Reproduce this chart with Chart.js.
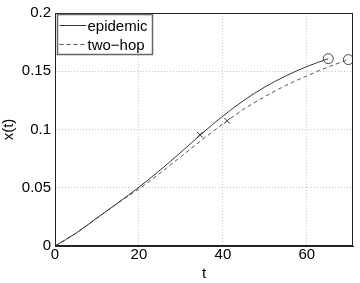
<!DOCTYPE html>
<html>
<head>
<meta charset="utf-8">
<script src="https://cdn.jsdelivr.net/npm/chart.js@4.4.0/dist/chart.umd.min.js"></script>
<style>
  html, body { margin: 0; padding: 0; background: #fff; }
  #wrap { width: 360px; height: 283px; position: relative; }
</style>
</head>
<body>
<div id="wrap"><canvas id="chart"></canvas></div>
<script>
// curve samples
const tEpidemic = [0, 5, 10, 15, 20, 25, 30, 35, 40, 45, 50, 55, 60, 65.1];
const xEpidemic = [0, 0.011, 0.024, 0.037, 0.0505, 0.065, 0.0805, 0.0965, 0.1115, 0.125, 0.1365, 0.146, 0.154, 0.1608];
const tTwoHop   = [0, 5, 10, 15, 20, 25, 30, 35, 40, 45, 50, 55, 60, 65, 69.9];
const xTwoHop   = [0, 0.011, 0.024, 0.037, 0.049, 0.0625, 0.0767, 0.091, 0.1048, 0.1175, 0.1283, 0.1378, 0.146, 0.1535, 0.1600];

// markers
const crossT = [34.5, 41.0];
const crossX = [0.0955, 0.1075];
const circleT = [65.1, 69.9];
const circleX = [0.1608, 0.1600];

const seriesNames = ["epidemic", "two\u2212hop"];
const xTicks = [0, 20, 40, 60];
const yTicks = [0, 0.05, 0.1, 0.15, 0.2];

const FONT = "'Liberation Sans', Arial, sans-serif";

function pts(ts, xs) {
    return ts.map((t, i) => ({ x: t, y: xs[i] }));
}

// MATLAB-style legend box inside the axes, plus the top/right frame
const boxLegend = {
    id: "boxLegend",
    afterDraw(chart) {
        const { ctx, chartArea: a } = chart;
        ctx.save();
        ctx.strokeStyle = "#222";
        ctx.lineWidth = 1;
        ctx.strokeRect(a.left + 0.5, a.top + 0.5, a.right - a.left - 1, a.bottom - a.top - 1);

        const x0 = a.left + 2.5, y0 = a.top + 1.5, w = 95, h = 40;
        ctx.fillStyle = "#fff";
        ctx.fillRect(x0, y0, w, h);
        ctx.strokeStyle = "#666";
        ctx.lineWidth = 1.5;
        ctx.strokeRect(x0, y0, w, h);

        ctx.font = "15px " + FONT;
        ctx.textBaseline = "middle";
        [0, 1].forEach(i => {
            const ds = chart.data.datasets[i];
            const yy = y0 + 11 + i * 19;
            ctx.strokeStyle = ds.borderColor;
            ctx.lineWidth = 1;
            ctx.setLineDash(ds.borderDash || []);
            ctx.beginPath();
            ctx.moveTo(x0 + 2, yy);
            ctx.lineTo(x0 + 29, yy);
            ctx.stroke();
            ctx.setLineDash([]);
            ctx.fillStyle = "#000";
            ctx.fillText(seriesNames[i], x0 + 30, yy + 1);
        });
        ctx.restore();
    }
};

new Chart(document.getElementById("chart"), {
    type: "scatter",
    data: {
        datasets: [
            {
                label: seriesNames[0],
                data: pts(tEpidemic, xEpidemic),
                showLine: true,
                borderColor: "#333",
                borderWidth: 1,
                pointRadius: 0,
                cubicInterpolationMode: "monotone",
            },
            {
                label: seriesNames[1],
                data: pts(tTwoHop, xTwoHop),
                showLine: true,
                borderColor: "#555",
                borderWidth: 1,
                borderDash: [4, 3],
                pointRadius: 0,
                cubicInterpolationMode: "monotone",
            },
            {
                label: "cross",
                data: pts(crossT, crossX),
                pointStyle: "crossRot",
                pointRadius: 4,
                borderColor: "#333",
                borderWidth: 1,
            },
            {
                label: "end",
                data: pts(circleT, circleX),
                pointStyle: "circle",
                pointRadius: 5,
                borderColor: "#444",
                backgroundColor: "rgba(0,0,0,0)",
                borderWidth: 1,
            },
        ],
    },
    options: {
        responsive: true,
        maintainAspectRatio: false,
        animation: false,
        layout: { padding: { top: 13, right: 7, left: 0, bottom: 0 } },
        plugins: {
            legend: { display: false },
            tooltip: { enabled: false },
        },
        scales: {
            x: {
                type: "linear",
                min: 0,
                max: 71,
                afterBuildTicks: s => { s.ticks = xTicks.map(v => ({ value: v })); },
                afterFit: s => { s.height = 37; },
                ticks: {
                    color: "#000",
                    font: { family: FONT, size: 15 },
                    padding: 0,
                    maxRotation: 0,
                },
                grid: {
                    color: "#c4c4c4",
                    lineWidth: 1,
                    tickLength: 0,
                    drawTicks: false,
                },
                border: { display: true, color: "#222", dash: [1, 2] },
                title: {
                    display: true,
                    text: "t",
                    color: "#000",
                    font: { family: FONT, size: 15 },
                    padding: { top: -5, bottom: 0 },
                },
            },
            y: {
                type: "linear",
                min: 0,
                max: 0.2,
                afterBuildTicks: s => { s.ticks = yTicks.map(v => ({ value: v })); },
                afterFit: s => { s.width = 55; },
                ticks: {
                    color: "#000",
                    font: { family: FONT, size: 15 },
                    padding: 4,
                    callback: v => String(v),
                },
                grid: {
                    color: "#c4c4c4",
                    lineWidth: 1,
                    drawTicks: false,
                },
                border: { display: true, color: "#222", dash: [1, 2] },
                title: {
                    display: true,
                    text: "x(t)",
                    color: "#000",
                    font: { family: FONT, size: 15 },
                    padding: { top: 0, bottom: 0 },
                },
            },
        },
    },
    plugins: [boxLegend],
});
</script>
</body>
</html>
